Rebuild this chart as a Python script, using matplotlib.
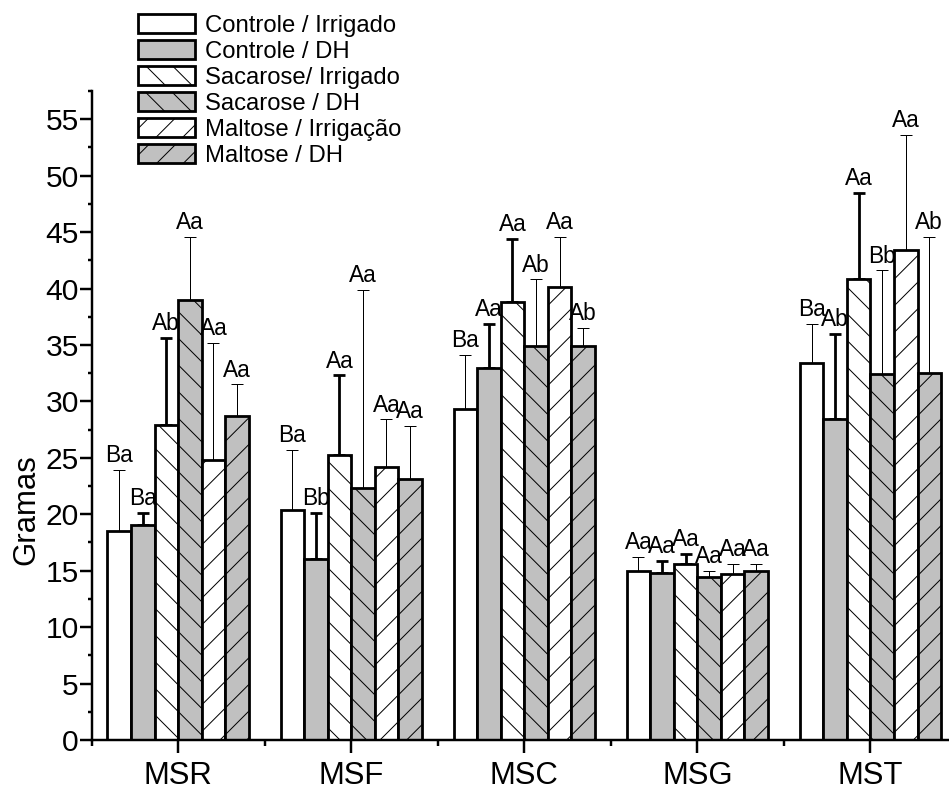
import numpy as np
import matplotlib
matplotlib.use('Agg')
import matplotlib.pyplot as plt

plt.rcParams['font.family'] = ['Liberation Sans', 'DejaVu Sans']
plt.rcParams['hatch.linewidth'] = 0.9

# categories and series
groups = ['MSR', 'MSF', 'MSC', 'MSG', 'MST']
series_names = ['Controle / Irrigado', 'Controle / DH', 'Sacarose/ Irrigado',
                'Sacarose / DH', 'Maltose / Irrigação', 'Maltose / DH']

controle_irr = [18.5, 20.4, 29.3, 15.0, 33.4]
controle_dh = [19.05, 16.0, 33.0, 14.8, 28.4]
sacarose_irr = [27.9, 25.25, 38.8, 15.6, 40.8]
sacarose_dh = [39.0, 22.3, 34.9, 14.4, 32.4]
maltose_irr = [24.8, 24.2, 40.1, 14.7, 43.4]
maltose_dh = [28.7, 23.1, 34.9, 15.0, 32.55]

controle_irr_err = [5.4, 5.3, 4.8, 1.25, 3.5]
controle_dh_err = [1.05, 4.1, 3.9, 1.1, 7.6]
sacarose_irr_err = [7.7, 7.05, 5.6, 0.85, 7.7]
sacarose_dh_err = [5.6, 17.6, 5.9, 0.6, 9.2]
maltose_irr_err = [10.35, 4.2, 4.5, 0.87, 10.2]
maltose_dh_err = [2.8, 4.75, 1.6, 0.6, 12.05]

controle_irr_lbl = ['Ba', 'Ba', 'Ba', 'Aa', 'Ba']
controle_dh_lbl = ['Ba', 'Bb', 'Aa', 'Aa', 'Ab']
sacarose_irr_lbl = ['Ab', 'Aa', 'Aa', 'Aa', 'Aa']
sacarose_dh_lbl = ['Aa', 'Aa', 'Ab', 'Aa', 'Bb']
maltose_irr_lbl = ['Aa', 'Aa', 'Aa', 'Aa', 'Aa']
maltose_dh_lbl = ['Aa', 'Aa', 'Ab', 'Aa', 'Ab']

means = [controle_irr, controle_dh, sacarose_irr, sacarose_dh, maltose_irr, maltose_dh]
errs = [controle_irr_err, controle_dh_err, sacarose_irr_err, sacarose_dh_err,
        maltose_irr_err, maltose_dh_err]
lbls = [controle_irr_lbl, controle_dh_lbl, sacarose_irr_lbl, sacarose_dh_lbl,
        maltose_irr_lbl, maltose_dh_lbl]

# styles
fills = ['white', '#c0c0c0', 'white', '#c0c0c0', 'white', '#c0c0c0']
hatches = [None, None, '\\', '\\', '/', '/']
err_lw = [0.9, 2.5, 2.5, 0.9, 0.9, 0.9]

fig = plt.figure(figsize=(949 / 80, 792 / 80), dpi=80)
ax = fig.add_axes([91.5 / 949, 1 - 740 / 792, 865.5 / 949, 649 / 792])

ind = np.arange(len(groups))
width = 0.136
bars = []
for i in range(6):
    x = ind + (i - 2.5) * width
    b = ax.bar(x, means[i], width, color=fills[i], edgecolor='black',
               linewidth=2.5, hatch=hatches[i], zorder=2, label=series_names[i])
    bars.append(b)
    ax.errorbar(x, means[i], yerr=[np.zeros(len(groups)), errs[i]], fmt='none',
                ecolor='black', elinewidth=err_lw[i], capsize=5,
                capthick=err_lw[i], zorder=1)
    for xx, m, e, t in zip(x, means[i], errs[i], lbls[i]):
        ax.text(xx, m + e + 0.7, t, ha='center', va='baseline', fontsize=20.5)

ax.set_xlim(-0.5, 4.5)
ax.set_ylim(0, 57.5)
ax.set_xticks(ind)
ax.set_xticklabels(groups)
ax.set_xticks(np.arange(-0.5, 5, 1), minor=True)
ax.set_yticks(np.arange(0, 56, 5))
ax.set_yticks(np.arange(0, 58, 2.5), minor=True)

for s in ['top', 'right']:
    ax.spines[s].set_visible(False)
for s in ['left', 'bottom']:
    ax.spines[s].set_linewidth(2.2)

ax.tick_params(axis='y', which='major', length=10.5, width=2.2, labelsize=27, pad=1)
ax.tick_params(axis='y', which='minor', length=4, width=2.2)
ax.tick_params(axis='x', which='major', length=11.5, width=2.2, labelsize=28, pad=7)
ax.tick_params(axis='x', which='minor', length=5, width=2.2)

ax.set_ylabel('Gramas', fontsize=28)
ax.yaxis.set_label_coords(-0.058, 0.355)

ax.legend(handles=bars, loc='upper left', bbox_to_anchor=(138 / 949, 1 - 14 / 792),
          bbox_transform=fig.transFigure, frameon=False, fontsize=21.5,
          handlelength=2.4, handleheight=0.84, handletextpad=0.42,
          labelspacing=0.14, borderpad=0, borderaxespad=0)

plt.savefig('out.png', dpi=80)
